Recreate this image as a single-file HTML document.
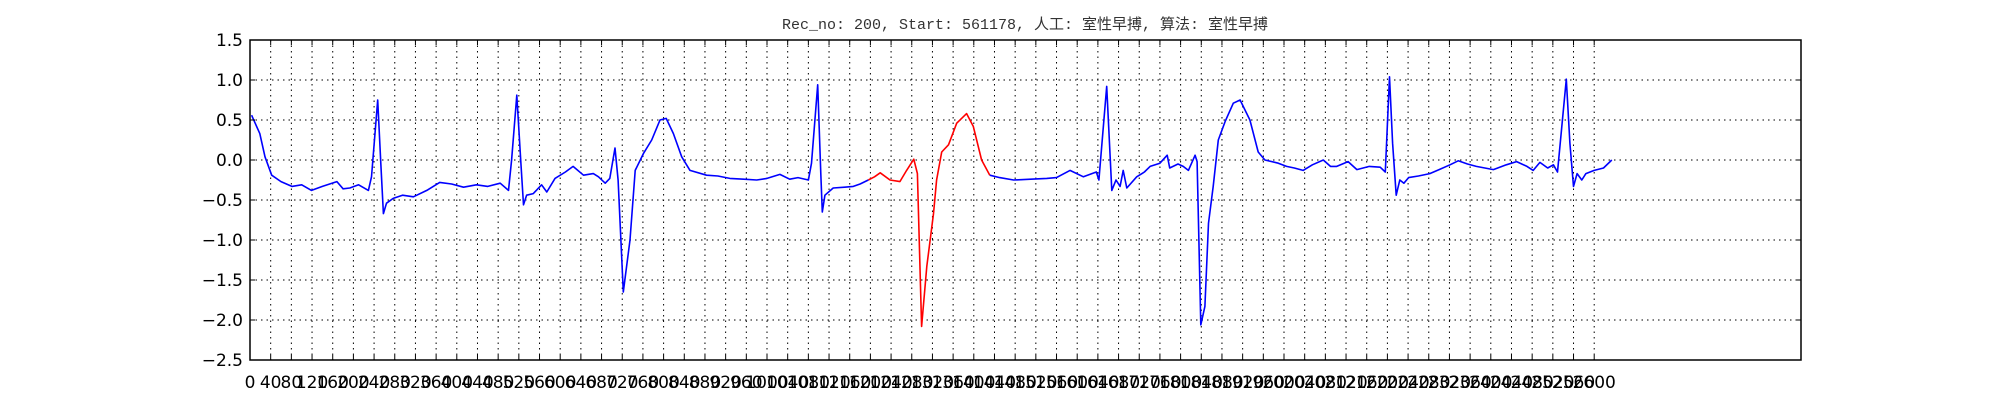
<!DOCTYPE html>
<html><head><meta charset="utf-8"><style>
html,body{margin:0;padding:0;background:#fff;}
svg{display:block;}
</style></head><body>
<svg id="chart" width="2000" height="400" xmlns="http://www.w3.org/2000/svg">
<rect width="2000" height="400" fill="#fff"/>
<text x="1025" y="29" text-anchor="middle" font-family="'Liberation Mono','Noto Sans CJK SC',monospace" font-size="15" fill="#333">Rec_no: 200, Start: 561178, 人工: 室性早搏, 算法: 室性早搏</text>
<g id="grid"></g>
<g id="series"></g>
<rect x="250" y="40" width="1551" height="320" fill="none" stroke="#000" stroke-width="1.5"/>
<g id="axes"></g>
</svg>
<script>
const sampleIdx = [3,19,29,42,60,81,100,119,140,168,180,193,210,229,235,247,253,258,264,277,295,316,342,367,390,413,438,460,484,500,506,516,524,529,535,548,564,574,590,610,625,645,664,674,687,696,706,712,722,735,745,761,777,793,805,819,835,851,883,905,928,955,980,1000,1025,1044,1060,1080,1086,1098,1104,1107,1112,1128,1150,1167,1180,1196,1208,1219,1238,1257,1270,1284,1291,1299,1309,1322,1328,1338,1351,1367,1386,1399,1415,1431,1450,1477,1510,1541,1560,1586,1612,1637,1642,1657,1667,1675,1683,1689,1696,1715,1730,1741,1760,1774,1779,1795,1805,1815,1828,1832,1839,1847,1854,1863,1873,1886,1902,1915,1934,1950,1963,1989,2005,2020,2037,2055,2076,2090,2102,2124,2141,2165,2186,2196,2204,2210,2217,2224,2232,2241,2260,2282,2300,2321,2337,2355,2372,2405,2430,2450,2470,2482,2495,2510,2521,2529,2546,2553,2560,2567,2576,2584,2600,2618,2634];
const ecgValues = [0.56,0.33,0.04,-0.19,-0.27,-0.33,-0.31,-0.38,-0.33,-0.27,-0.36,-0.35,-0.31,-0.38,-0.21,0.75,-0.04,-0.67,-0.54,-0.48,-0.44,-0.46,-0.38,-0.28,-0.30,-0.34,-0.31,-0.33,-0.29,-0.38,0.00,0.81,-0.04,-0.56,-0.44,-0.42,-0.31,-0.40,-0.23,-0.15,-0.08,-0.19,-0.17,-0.21,-0.29,-0.23,0.15,-0.25,-1.65,-1.00,-0.13,0.08,0.25,0.50,0.52,0.33,0.04,-0.13,-0.19,-0.20,-0.23,-0.24,-0.25,-0.23,-0.18,-0.24,-0.22,-0.25,-0.04,0.94,-0.17,-0.65,-0.44,-0.35,-0.34,-0.33,-0.30,-0.25,-0.21,-0.16,-0.25,-0.27,-0.13,0.01,-0.17,-2.08,-1.33,-0.67,-0.25,0.10,0.19,0.46,0.58,0.42,0.00,-0.19,-0.22,-0.25,-0.24,-0.23,-0.22,-0.13,-0.21,-0.15,-0.25,0.92,-0.38,-0.25,-0.33,-0.13,-0.35,-0.21,-0.15,-0.08,-0.04,0.06,-0.10,-0.05,-0.08,-0.13,0.06,-0.02,-2.06,-1.83,-0.79,-0.33,0.25,0.48,0.71,0.75,0.50,0.10,0.00,-0.04,-0.08,-0.10,-0.13,-0.06,0.00,-0.08,-0.08,-0.02,-0.12,-0.08,-0.09,-0.15,1.04,0.21,-0.44,-0.25,-0.29,-0.22,-0.20,-0.17,-0.12,-0.06,-0.01,-0.05,-0.08,-0.12,-0.06,-0.02,-0.08,-0.13,-0.03,-0.10,-0.06,-0.15,1.01,0.21,-0.33,-0.17,-0.25,-0.17,-0.13,-0.10,0.00];
const redRange = [1196, 1431];
const yTicks = [1.5,1.0,0.5,0.0,-0.5,-1.0,-1.5,-2.0,-2.5];
const yTickLabels = ["1.5","1.0","0.5","0.0","\u22120.5","\u22121.0","\u22121.5","\u22122.0","\u22122.5"];
const xTicks = []; for (let t = 0; t <= 2600; t += 40) xTicks.push(t);

const NS = "http://www.w3.org/2000/svg";
const L = 250, R = 1801, T = 40, B = 360;
const xMin = 0, xMax = 3000, yMin = -2.5, yMax = 1.5;
const xs = v => L + (v - xMin) / (xMax - xMin) * (R - L);
const ys = v => B - (v - yMin) / (yMax - yMin) * (B - T);
function mk(tag, attrs, parent) { const e = document.createElementNS(NS, tag); for (const k in attrs) e.setAttribute(k, attrs[k]); parent.appendChild(e); return e; }

const grid = document.getElementById('grid');
const axes = document.getElementById('axes');
xTicks.forEach(t => {
  const X = xs(t);
  const gl = mk('line', {x1:X, x2:X, y1:T, y2:B, stroke:'#000', 'stroke-width':1, 'stroke-dasharray':'1.5,4'}, grid);
  
  
  const tk = mk('line', {x1:X, x2:X, y1:B, y2:B-5, stroke:'#000', 'stroke-width':1}, axes);
  
  
  const tk2 = mk('line', {x1:X, x2:X, y1:T, y2:T+5, stroke:'#000', 'stroke-width':1}, axes);
  
  
  const lb = mk('text', {x:X, y:388, 'text-anchor':'middle', 'font-family':"'DejaVu Sans','Liberation Sans',sans-serif", 'font-size':17, fill:'#000'}, axes);
  lb.textContent = String(t);
  
  
});
yTicks.forEach((t, i) => {
  const Y = ys(t);
  const gl = mk('line', {x1:L, x2:R, y1:Y, y2:Y, stroke:'#000', 'stroke-width':1, 'stroke-dasharray':'1.5,4'}, grid);
  
  
  const tk = mk('line', {x1:L, x2:L+5, y1:Y, y2:Y, stroke:'#000', 'stroke-width':1}, axes);
  
  
  const tk2 = mk('line', {x1:R, x2:R-5, y1:Y, y2:Y, stroke:'#000', 'stroke-width':1}, axes);
  
  
  const lb = mk('text', {x:243, y:Y+6, 'text-anchor':'end', 'font-family':"'DejaVu Sans','Liberation Sans',sans-serif", 'font-size':17, fill:'#000'}, axes);
  lb.textContent = yTickLabels[i];
  
  
});

const series = document.getElementById('series');
function seg(from, to) {
  const pts = [];
  for (let i = 0; i < sampleIdx.length; i++) {
    if (sampleIdx[i] >= from && sampleIdx[i] <= to) pts.push(xs(sampleIdx[i]).toFixed(1) + ',' + ys(ecgValues[i]).toFixed(1));
  }
  return pts.join(' ');
}
const b1 = mk('polyline', {points: seg(0, redRange[0]), fill:'none', stroke:'#0000ff', 'stroke-width':1.6, 'stroke-linejoin':'round'}, series);


const r1 = mk('polyline', {points: seg(redRange[0], redRange[1]), fill:'none', stroke:'#ff0000', 'stroke-width':1.6, 'stroke-linejoin':'round'}, series);


const b2 = mk('polyline', {points: seg(redRange[1], 99999), fill:'none', stroke:'#0000ff', 'stroke-width':1.6, 'stroke-linejoin':'round'}, series);


</script>
</body></html>
